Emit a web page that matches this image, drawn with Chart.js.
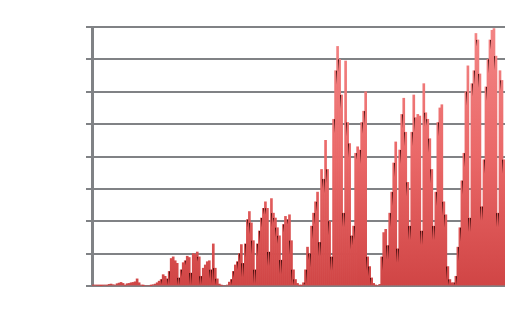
<!DOCTYPE html>
<html>
<head>
<meta charset="utf-8">
<script src="https://cdn.jsdelivr.net/npm/chart.js@4"></script>
<style>
  html, body { margin: 0; padding: 0; background: #fff; }
  #wrap { width: 532px; height: 313px; }
</style>
</head>
<body>
<div id="wrap"><canvas id="myChart"></canvas></div>
<script>
// Bar heights, one bar per ~2px, left to right
const values = [
  0.02, 0.03, 0.02, 0.02, 0.01, 0.02, 0.03, 0.02, 0.05, 0.06,
  0.04, 0.03, 0.07, 0.09, 0.11, 0.08, 0.02, 0.07, 0.08, 0.1,
  0.11, 0.13, 0.22, 0.1, 0.03, 0.01, 0, 0, 0, 0.01,
  0.04, 0.06, 0.1, 0.15, 0.2, 0.35, 0.3, 0.22, 0.45, 0.85,
  0.9, 0.78, 0.7, 0.25, 0.5, 0.72, 0.78, 0.92, 0.88, 0.4,
  1.0, 0.98, 1.05, 0.9, 0.3, 0.55, 0.65, 0.75, 0.78, 0.5,
  1.3, 0.55, 0.22, 0.06, 0.02, 0, 0, 0.03, 0.12, 0.2,
  0.45, 0.65, 0.75, 1.0, 1.28, 0.7, 1.3, 2.05, 2.3, 1.95,
  1.4, 0.5, 1.3, 1.7, 2.1, 2.4, 2.6, 2.4, 1.05, 2.7,
  2.25, 2.1, 1.8, 1.55, 0.8, 1.9, 2.15, 2.05, 2.2, 1.4,
  0.5, 0.2, 0.08, 0.02, 0.02, 0.1, 0.5, 1.2, 1.0, 1.85,
  2.25, 2.6, 2.9, 1.35, 3.6, 3.3, 4.5, 3.6, 2.0, 0.9,
  5.15, 6.65, 7.4, 7.0, 5.9, 2.25, 6.95, 5.05, 4.4, 1.55,
  1.85, 4.1, 4.3, 4.2, 5.05, 5.4, 6.0, 0.9, 0.6, 0.25,
  0.08, 0.02, 0, 0.05, 0.9, 1.65, 1.75, 1.25, 2.25, 2.9,
  3.8, 4.45, 1.15, 4.2, 5.3, 5.8, 4.75, 3.2, 1.85, 4.75,
  5.9, 5.2, 5.3, 5.25, 1.7, 6.25, 5.35, 5.15, 4.55, 3.6,
  1.85, 2.9, 5.05, 5.5, 5.6, 2.6, 2.2, 0.6, 0.2, 0.1,
  0.1, 0.3, 1.2, 1.8, 3.25, 4.1, 6.0, 6.8, 2.1, 6.25,
  6.65, 7.8, 7.6, 6.55, 2.45, 3.9, 6.15, 7.0, 7.6, 7.9,
  7.95, 7.1, 2.25, 6.65, 6.35, 3.9
];

// Category labels (not shown in the picture)
const categories = values.map((v, i) => String(i + 1));

// Y axis gridline positions
const yMin = 0;
const yMax = 8;
const yStep = 1;

const gridColor = '#808285';

// Dark shading where a bar meets a taller neighbour (the 3D look of the original)
const edgeShade = {
    id: 'edgeShade',
    afterDatasetsDraw(chart) {
        const bars = chart.getDatasetMeta(0).data;
        const c = chart.ctx;
        c.save();
        for (let i = 1; i < bars.length; i++) {
            const a = bars[i - 1], b = bars[i];
            const low = a.y > b.y ? a : b;   // shorter bar of the pair
            const high = a.y > b.y ? b : a;
            const drop = low.y - high.y;
            if (drop < 4) continue;
            const len = Math.min(drop, 14, low.base - low.y);
            if (len < 2) continue;
            const xEdge = Math.round((a.x + b.x) / 2);
            const g = c.createLinearGradient(0, low.y, 0, low.y + len);
            g.addColorStop(0, 'rgba(40,0,0,0.85)');
            g.addColorStop(1, 'rgba(40,0,0,0)');
            c.fillStyle = g;
            c.fillRect(xEdge - 1, low.y, 1, len);
        }
        c.restore();
    }
};

const ctx = document.getElementById('myChart').getContext('2d');

new Chart(ctx, {
    type: 'bar',
    data: {
        labels: categories,
        datasets: [{
            data: values,
            // vertical gradient, lighter near the top of the plot
            backgroundColor: function (context) {
                const area = context.chart.chartArea;
                if (!area) return '#d84c4c';
                const g = context.chart.ctx.createLinearGradient(0, area.top, 0, area.bottom);
                g.addColorStop(0, '#f38585');
                g.addColorStop(0.5, '#ea6868');
                g.addColorStop(1, '#d04545');
                return g;
            },
            borderWidth: 0,
            barPercentage: 1.0,
            categoryPercentage: 1.0
        }]
    },
    options: {
        responsive: true,
        maintainAspectRatio: false,
        animation: false,
        layout: {
            padding: { left: 86, right: 27, top: 27, bottom: 27 }
        },
        scales: {
            x: { display: false },
            y: {
                min: yMin,
                max: yMax,
                ticks: { display: false, stepSize: yStep },
                grid: {
                    color: gridColor,
                    lineWidth: 2,
                    tickLength: 6,
                    drawTicks: true
                },
                border: { display: true, color: gridColor, width: 3 },
                afterFit: function (scale) { scale.width = 6; }
            }
        },
        plugins: {
            legend: { display: false },
            tooltip: { enabled: false }
        }
    },
    plugins: [edgeShade]
});
</script>
</body>
</html>
